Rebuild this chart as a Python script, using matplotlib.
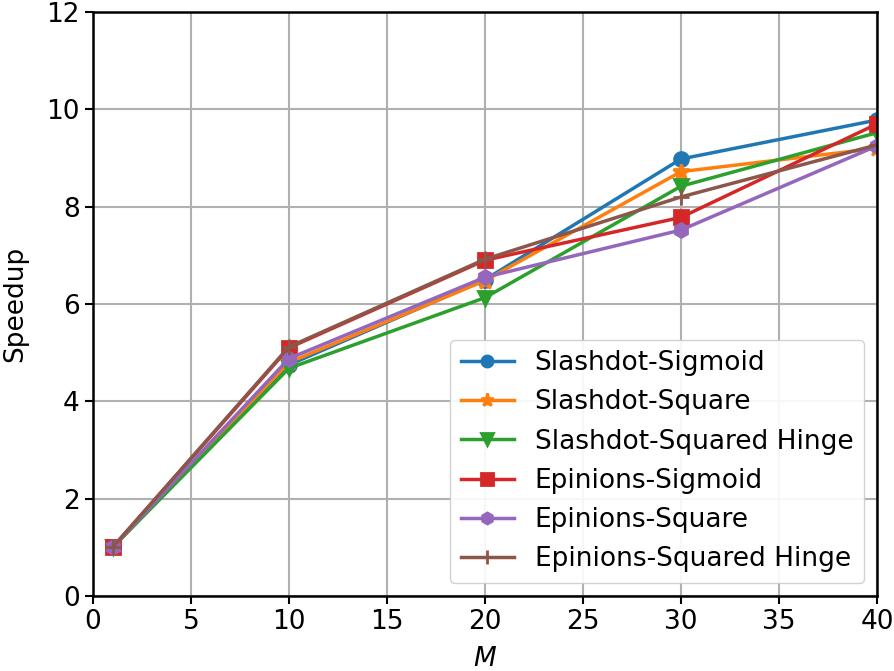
import matplotlib
matplotlib.use("Agg")
import matplotlib.pyplot as plt

M = [1, 10, 20, 30, 40]
slashdot_sigmoid = [1.0, 4.75, 6.5, 8.98, 9.78]
slashdot_square = [1.0, 4.8, 6.48, 8.72, 9.2]
slashdot_hinge = [1.0, 4.68, 6.13, 8.42, 9.52]
epinions_sigmoid = [1.0, 5.1, 6.9, 7.78, 9.7]
epinions_square = [1.0, 4.88, 6.55, 7.52, 9.25]
epinions_hinge = [1.0, 5.12, 6.92, 8.2, 9.27]

series = [
    ("Slashdot-Sigmoid", slashdot_sigmoid, "o", "#1f77b4"),
    ("Slashdot-Square", slashdot_square, "*", "#ff7f0e"),
    ("Slashdot-Squared Hinge", slashdot_hinge, "v", "#2ca02c"),
    ("Epinions-Sigmoid", epinions_sigmoid, "s", "#d62728"),
    ("Epinions-Square", epinions_square, "h", "#9467bd"),
    ("Epinions-Squared Hinge", epinions_hinge, "+", "#8c564b"),
]

fig = plt.figure(figsize=(8.94, 6.71), dpi=100)
ax = fig.add_axes([93 / 894, 75 / 671, 784 / 894, 584 / 671])
for name, vals, mk, c in series:
    ms = 12 if mk in "*+" else 10
    ax.plot(M, vals, marker=mk, color=c, lw=2.5, ms=ms, mew=2, label=name)

ax.set_xlim(0, 40)
ax.set_ylim(0, 12)
ax.set_xticks(range(0, 41, 5))
ax.set_yticks(range(0, 13, 2))
ax.tick_params(labelsize=19, width=1.5, length=6)
ax.grid(True, color="#b0b0b0", lw=1.5)
for s in ax.spines.values():
    s.set_linewidth(1.8)
ax.set_xlabel("$M$", fontsize=19, labelpad=8)
ax.set_ylabel("Speedup", fontsize=19, labelpad=13)
ax.legend(loc="lower right", fontsize=19, framealpha=0.9, handlelength=2,
          markerscale=0.8, borderaxespad=0.5)

fig.savefig("out.png", dpi=100)
